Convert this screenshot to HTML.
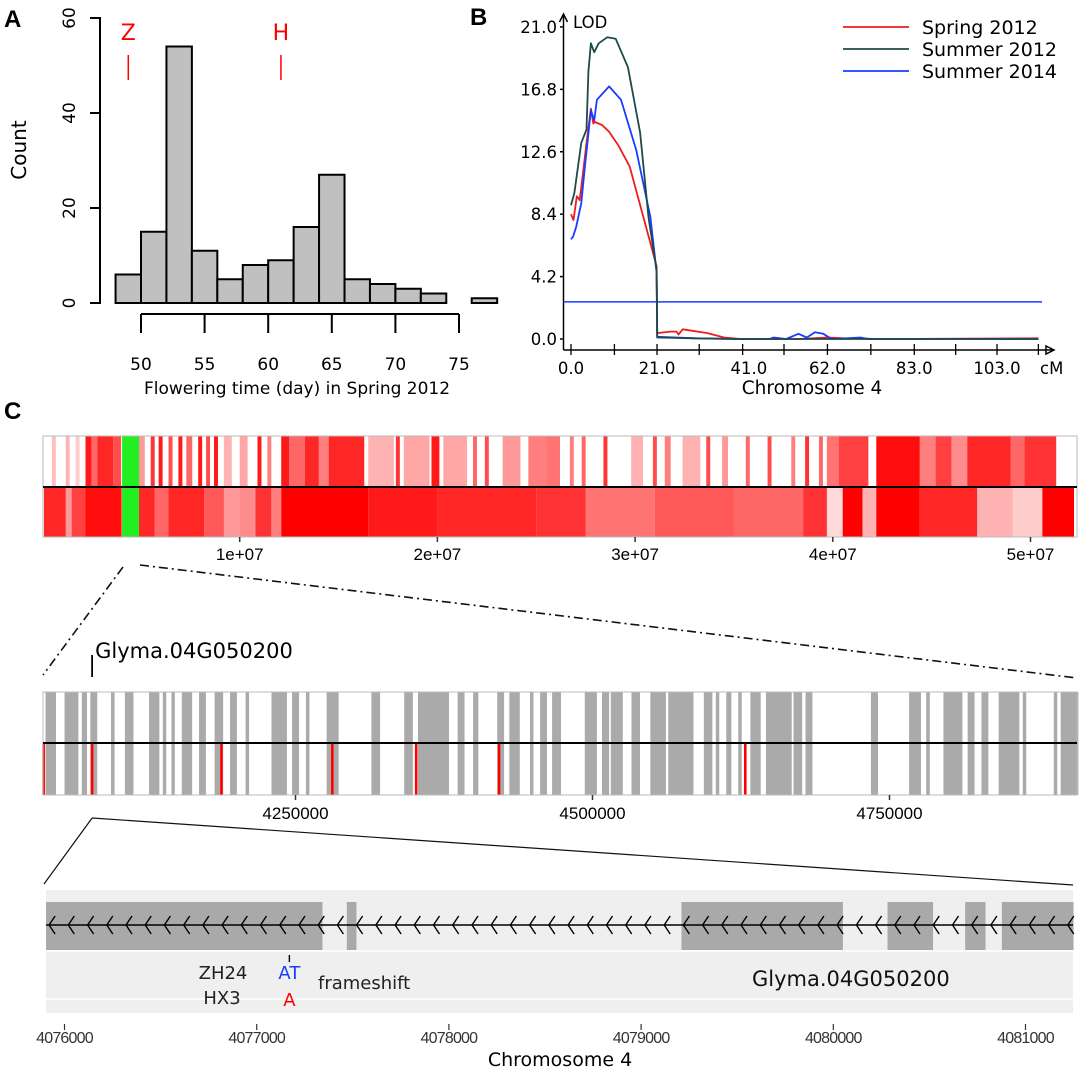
<!DOCTYPE html>
<html><head><meta charset="utf-8">
<style>
html,body{margin:0;padding:0;background:#fff;}
svg{display:block;font-family:"DejaVu Sans","Liberation Sans",sans-serif;}
</style></head>
<body>
<svg id="fig" width="1080" height="1067" viewBox="0 0 1080 1067" xmlns="http://www.w3.org/2000/svg">
  <text x="4" y="27" font-size="24" font-weight="bold" font-family="Liberation Sans, sans-serif">A</text>
  <text x="470" y="25" font-size="24" font-weight="bold" font-family="Liberation Sans, sans-serif">B</text>
  <text x="4" y="419" font-size="24" font-weight="bold" font-family="Liberation Sans, sans-serif">C</text>
  <g id="pa"></g>
  <g id="pb"></g>
  <g id="pc1"></g>
  <g id="pc2"></g>
  <g id="pc3"></g>
</svg>
<script>
// ---------- Panel A data ----------
const histStart = 48;
const histBinWidth = 2;
const histCounts = [6, 15, 54, 11, 5, 8, 9, 16, 27, 5, 4, 3, 2, 0, 1];
const histYTicks = [0, 20, 40, 60];
const histXTicks = [50, 55, 60, 65, 70, 75];
const parentMarks = [["Z", 49.0], ["H", 61.0]];

// ---------- Panel B data ----------
const lodYTicks = [0.0, 4.2, 8.4, 12.6, 16.8, 21.0];
const cmTicks = [0, 10.5, 20.8, 31, 41.5, 51.5, 62, 72.5, 83, 93, 103, 113];
const cmLabels = [[0, "0.0"], [20.8, "21.0"], [43, "41.0"], [62, "62.0"], [83, "83.0"], [103, "103.0"]];
const lodThreshold = 2.5;
const spring2012 = [[0,8.4],[0.6,8.0],[1.4,9.6],[2.1,9.35],[3.0,11.4],[3.75,13.2],[4.8,15.5],[5.4,14.5],[5.8,14.6],[7.5,14.4],[9.2,13.95],[11.5,13.0],[14.2,11.6],[17.5,8.2],[20.7,4.9],[20.85,0.4],[24,0.5],[25.5,0.5],[26,0.3],[27,0.65],[33,0.4],[37,0.1],[41,0],[55,0],[62,0.1],[66,0.05],[75,0],[113,0.05]];
const summer2012 = [[0,9.0],[0.8,9.8],[2.5,13.2],[3.75,14.1],[4.2,18.0],[4.8,19.9],[5.6,19.3],[6.7,19.9],[8.75,20.3],[10.8,20.2],[13.75,18.3],[16.7,13.9],[18.75,8.2],[20.7,4.6],[20.85,0.1],[30,0.05],[40,0],[113,0]];
const summer2014 = [[0,6.7],[0.5,6.9],[1.25,7.55],[2.5,9.15],[3.3,11.4],[4.8,15.4],[5.6,14.7],[6.25,16.1],[9.2,17.0],[12.1,16.1],[15.8,12.7],[19.2,8.2],[20.7,4.5],[20.85,0.15],[30,0.05],[40,0],[48,0],[49,0.1],[52,0],[55,0.35],[57,0.1],[59,0.45],[61,0.35],[63,0],[70,0.1],[72,0],[113,0]];

// ---------- Panel C top (Mb) : [start, end, intensity] ----------
const chrTicks = [1e7, 2e7, 3e7, 4e7, 5e7];
const chrTickLabels = ["1e+07", "2e+07", "3e+07", "4e+07", "5e+07"];
const highlightRegion = [4.05, 4.91];
const topRow = [[0.5,0.7,0.25],[1.2,1.4,0.3],[1.7,1.9,0.2],[2.2,2.5,0.9],[2.5,2.8,0.6],[2.8,3.6,0.85],[3.6,4.0,0.7],[4.9,5.2,0.4],[5.5,5.7,0.8],[5.9,6.1,0.9],[6.4,6.6,0.7],[6.9,7.1,0.9],[7.3,7.6,0.6],[7.9,8.1,0.9],[8.3,8.5,0.7],[8.7,8.9,0.9],[9.2,9.6,0.3],[10.0,10.4,0.35],[10.9,11.1,0.9],[11.4,11.6,0.5],[12.1,12.5,0.9],[12.5,13.3,0.6],[13.3,14.0,0.85],[14.0,14.5,0.5],[14.5,16.3,0.85],[16.5,17.8,0.3],[17.9,18.1,0.8],[18.3,19.6,0.35],[19.7,20.1,0.9],[20.3,21.5,0.35],[21.8,22.0,0.6],[22.4,22.6,0.7],[23.3,24.2,0.4],[24.6,25.5,0.5],[25.5,26.2,0.55],[26.7,26.9,0.5],[27.3,27.5,0.6],[28.4,28.6,0.8],[29.8,30.4,0.3],[30.9,31.1,0.7],[31.5,31.8,0.5],[32.4,33.3,0.3],[33.6,33.8,0.7],[34.4,34.7,0.4],[35.6,35.8,0.6],[36.7,36.9,0.7],[37.9,38.1,0.5],[38.6,38.8,0.8],[39.3,39.5,0.6],[39.7,40.3,0.55],[40.3,41.8,0.75],[42.2,44.4,0.95],[44.4,45.2,0.5],[45.2,46.0,0.75],[46.0,46.8,0.45],[46.8,49.0,0.85],[49.0,49.7,0.6],[49.7,51.3,0.8]];
const bottomRow = [[0.1,1.2,0.85],[1.2,1.5,0.4],[1.5,2.2,0.75],[2.2,4.0,0.95],[4.0,4.1,0.6],[4.9,5.7,0.85],[5.7,6.4,0.6],[6.4,8.2,0.85],[8.2,9.2,0.65],[9.2,10.0,0.4],[10.0,10.8,0.45],[10.8,11.6,0.8],[11.6,12.1,0.5],[12.1,16.5,1.0],[16.5,20.0,0.9],[20.0,25.0,0.85],[25.0,27.5,0.8],[27.5,31.0,0.55],[31.0,35.0,0.65],[35.0,38.5,0.6],[38.5,39.7,0.8],[39.7,40.5,0.15],[40.5,41.5,1.0],[41.5,42.2,0.3],[42.2,44.4,1.0],[44.4,47.3,0.85],[47.3,49.1,0.3],[49.1,50.6,0.2],[50.6,52.2,1.0]];

// ---------- Panel C middle (kb) ----------
const regTicks = [4250000, 4500000, 4750000];
const regGray = [[4039.6,4048.4],[4055.6,4067.2],[4070.1,4074.5],[4077.3,4083.1],[4094.7,4097.7],[4106.4,4113.6],[4126.7,4135.4],[4138.3,4141.2],[4145.6,4148.4],[4154.3,4163],[4168.8,4174.6],[4181.9,4189.1],[4194.9,4200.7],[4208,4210.9],[4229.8,4242.8],[4247.1,4253],[4258.8,4261.7],[4276.2,4286.3],[4313.9,4321.2],[4341.5,4348.8],[4353.1,4379.2],[4386.5,4392.3],[4399.5,4403.9],[4419.8,4425.6],[4430,4438.8],[4447.4,4450.3],[4455.9,4461.7],[4466,4473.5],[4493.5,4503.7],[4508,4514],[4515.4,4525.5],[4532.8,4540],[4548.7,4561.8],[4563.8,4585],[4593.7,4600.9],[4603.8,4606.7],[4612.6,4616.9],[4622.7,4625.6],[4632.9,4641.6],[4646,4667.7],[4669.2,4676.5],[4679.3,4685.1],[4734.4,4740.3],[4766.5,4776.5],[4780.9,4783.9],[4795.4,4811.4],[4815.8,4821.6],[4827.4,4833.2],[4841.9,4859.3],[4862.2,4865.1],[4888.3,4891.2],[4894.1,4909]];
const regRed = [4038, 4078.8, 4187.7, 4281, 4351.6, 4421.3, 4628.6];
const geneMark = 4078.8;

// ---------- Panel C bottom (kb) ----------
const geneTicks = [4076000, 4077000, 4078000, 4079000, 4080000, 4081000];
const exons = [[4075.904,4077.342],[4077.469,4077.519],[4079.21,4080.05],[4080.282,4080.519],[4080.686,4080.792],[4080.877,4081.25]];
const snpPos = 4077.17;

const NS = "http://www.w3.org/2000/svg";
function mk(parent, tag, attrs, text) {
  const e = document.createElementNS(NS, tag);
  for (const k in attrs) e.setAttribute(k, attrs[k]);
  if (text !== undefined) e.textContent = text;
  parent.appendChild(e);
  return e;
}

// ================= Panel A =================
(function(){
  const g = document.getElementById("pa");
  const xA = v => 141 + (v - 50) * 12.72;
  const yA = v => 303 - v * 4.75;
  histCounts.forEach((c, i) => {
    const x0 = xA(histStart + i * histBinWidth), x1 = xA(histStart + (i + 1) * histBinWidth);
    const r = mk(g, "rect", {x: x0, y: yA(c), width: x1 - x0, height: yA(0) - yA(c), fill: "#c0c0c0", stroke: "#000", "stroke-width": 2});
    
    
  });
  const ya = mk(g, "path", {d: `M90 ${yA(60)} H100 V${yA(0)} H90`, stroke: "#000", "stroke-width": 2, fill: "none"});
  
  
  histYTicks.forEach(v => {
    mk(g, "line", {x1: 90, x2: 100, y1: yA(v), y2: yA(v), stroke: "#000", "stroke-width": 2});
    const t = mk(g, "text", {x: 0, y: 0, "font-size": 17, "text-anchor": "middle", transform: `translate(75 ${yA(v)}) rotate(-90)`}, v);
    
    
  });
  const xa = mk(g, "line", {x1: xA(50), x2: xA(75), y1: 314, y2: 314, stroke: "#000", "stroke-width": 2});
  
  
  histXTicks.forEach(v => {
    mk(g, "line", {x1: xA(v), x2: xA(v), y1: 314, y2: 333, stroke: "#000", "stroke-width": 2});
    const t = mk(g, "text", {x: xA(v), y: 370, "font-size": 17, "text-anchor": "middle"}, v);
    
    
  });
  const xt = mk(g, "text", {x: 297, y: 394, "font-size": 17, "text-anchor": "middle"}, "Flowering time (day) in Spring 2012");
  
  
  const yt = mk(g, "text", {x: 0, y: 0, "font-size": 20, "text-anchor": "middle", transform: "translate(26 150) rotate(-90)"}, "Count");
  
  
  parentMarks.forEach(([lab, v]) => {
    const t = mk(g, "text", {x: xA(v), y: 40, "font-size": 22, fill: "#f00", "text-anchor": "middle"}, lab);
    
    
    mk(g, "line", {x1: xA(v), x2: xA(v), y1: 55, y2: 80, stroke: "#f00", "stroke-width": 1.5});
  });
})();

// ================= Panel B =================
(function(){
  const g = document.getElementById("pb");
  const xB = v => 571 + v * 4.136;
  const yB = v => 339 - v * 14.86;
  const ax = mk(g, "path", {d: `M563.5 350 V14 M559.5 22 L563.5 14 L567.5 22 M563.5 350 H1052 M1046 346 L1054 350 L1046 354 Z`, stroke: "#000", "stroke-width": 1.5, fill: "none"});
  
  
  lodYTicks.forEach(v => {
    mk(g, "line", {x1: 560, x2: 563.5, y1: yB(v), y2: yB(v), stroke: "#000", "stroke-width": 1.5});
    const t = mk(g, "text", {x: 557, y: yB(v) + 6, "font-size": 16.5, "text-anchor": "end"}, v.toFixed(1));
    
    
  });
  const lod = mk(g, "text", {x: 573, y: 28, "font-size": 16.5}, "LOD");
  
  
  cmTicks.forEach(v => mk(g, "line", {x1: xB(v), x2: xB(v), y1: 344, y2: 355, stroke: "#000", "stroke-width": 1.3}));
  cmLabels.forEach(([v, s]) => {
    const t = mk(g, "text", {x: xB(v), y: 374, "font-size": 16.5, "text-anchor": "middle"}, s);
    
    
  });
  const cm = mk(g, "text", {x: 1040, y: 374, "font-size": 16.5}, "cM");
  
  
  const xt = mk(g, "text", {x: 812, y: 394, "font-size": 18.5, "text-anchor": "middle"}, "Chromosome 4");
  
  
  const th = mk(g, "line", {x1: 563.5, x2: 1042, y1: yB(lodThreshold), y2: yB(lodThreshold), stroke: "#1a3cff", "stroke-width": 1.5});
  
  
  const series = [[spring2012, "#ee1c1c", "spring-2012-line"], [summer2014, "#1a3cff", "summer-2014-line"], [summer2012, "#1f4a4a", "summer-2012-line"]];
  series.forEach(([d, col, name]) => {
    const p = mk(g, "polyline", {points: d.map(([a, b]) => `${xB(a).toFixed(1)},${yB(b).toFixed(1)}`).join(" "), fill: "none", stroke: col, "stroke-width": 1.8, "stroke-linejoin": "round"});
    
    
  });
  const legend = [["Spring 2012", "#ee1c1c"], ["Summer 2012", "#1f4a4a"], ["Summer 2014", "#1a3cff"]];
  legend.forEach(([lab, col], i) => {
    const y = 27 + i * 22;
    mk(g, "line", {x1: 843, x2: 909, y1: y, y2: y, stroke: col, "stroke-width": 1.8});
    const t = mk(g, "text", {x: 922, y: y + 7, "font-size": 19}, lab);
    
    
  });
})();

// ================= Panel C top =================
(function(){
  const g = document.getElementById("pc1");
  const xC = mb => 42 + mb * 19.77;
  const top = 436, mid = 487, bot = 537;
  topRow.forEach(([a, b, o]) => {
    const r = mk(g, "rect", {x: xC(a), y: top, width: xC(b) - xC(a), height: mid - top, fill: "#ff0000", "fill-opacity": o});
    
    
  });
  bottomRow.forEach(([a, b, o]) => {
    const r = mk(g, "rect", {x: xC(a), y: mid, width: xC(b) - xC(a), height: bot - mid, fill: "#ff0000", "fill-opacity": o});
    
    
  });
  const hl = mk(g, "rect", {x: xC(highlightRegion[0]), y: top, width: xC(highlightRegion[1]) - xC(highlightRegion[0]), height: bot - top, fill: "#22ee22"});
  
  
  mk(g, "rect", {x: 43, y: top, width: 1034, height: bot - top, fill: "none", stroke: "#bbb", "stroke-width": 1});
  mk(g, "line", {x1: 43, x2: 1077, y1: mid, y2: mid, stroke: "#000", "stroke-width": 2});
  chrTicks.forEach((v, i) => {
    const x = xC(v / 1e6);
    mk(g, "line", {x1: x, x2: x, y1: bot, y2: bot + 5, stroke: "#333", "stroke-width": 1.5});
    const t = mk(g, "text", {x: x, y: 560, "font-size": 17, "text-anchor": "middle", "font-family": "Liberation Sans, sans-serif"}, chrTickLabels[i]);
    
    
  });
  const z = mk(g, "path", {d: "M123 567 L43 675 M140 565 L1077 678", stroke: "#111", "stroke-width": 1.6, "stroke-dasharray": "9 4 2 4", fill: "none"});
  
  
})();

// ================= Panel C middle =================
(function(){
  const g = document.getElementById("pc2");
  const xM = kb => 295.5 + (kb - 4250) * 1.188;
  const top = 692, mid = 743, bot = 795;
  regGray.forEach(([a, b]) => {
    const r = mk(g, "rect", {x: xM(a), y: top, width: Math.max(1, xM(b) - xM(a)), height: bot - top, fill: "#aaaaaa"});
    
    
  });
  regRed.forEach(v => {
    const r = mk(g, "rect", {x: xM(v) - 1.3, y: mid, width: 2.6, height: bot - mid, fill: "#ff0000"});
    
    
  });
  mk(g, "rect", {x: 43, y: top, width: 1034, height: bot - top, fill: "none", stroke: "#bbb", "stroke-width": 1});
  mk(g, "line", {x1: 43, x2: 1077, y1: mid, y2: mid, stroke: "#000", "stroke-width": 2});
  regTicks.forEach(v => {
    const x = xM(v / 1000);
    mk(g, "line", {x1: x, x2: x, y1: bot, y2: bot + 5, stroke: "#333", "stroke-width": 1.5});
    const t = mk(g, "text", {x: x, y: 819, "font-size": 17, "text-anchor": "middle", "font-family": "Liberation Sans, sans-serif"}, v);
    
    
  });
  const gx = xM(geneMark);
  mk(g, "line", {x1: gx, x2: gx, y1: 655, y2: 677, stroke: "#000", "stroke-width": 1.8});
  const gl = mk(g, "text", {x: gx + 3, y: 658, "font-size": 21}, "Glyma.04G050200");
  
  
  const z = mk(g, "path", {d: `M${gx} 818 L44 884 M${gx} 818 L1073 885`, stroke: "#111", "stroke-width": 1.2, fill: "none"});
  
  
})();

// ================= Panel C bottom =================
(function(){
  const g = document.getElementById("pc3");
  const xG = kb => 64.5 + (kb - 4076) * 192.2;
  const bg = mk(g, "rect", {x: 46, y: 890, width: 1027, height: 123, fill: "#efefef"});
  
  
  mk(g, "line", {x1: 46, x2: 1073, y1: 951, y2: 951, stroke: "#fff", "stroke-width": 1.5});
  mk(g, "line", {x1: 46, x2: 1073, y1: 999, y2: 999, stroke: "#fff", "stroke-width": 1.5});
  exons.forEach(([a, b]) => {
    const r = mk(g, "rect", {x: xG(a), y: 902, width: xG(b) - xG(a), height: 48, fill: "#a9a9a9"});
    
    
  });
  mk(g, "line", {x1: 46, x2: 1073, y1: 925, y2: 925, stroke: "#000", "stroke-width": 1.6});
  let d = "";
  for (let kb = 4075.92; kb < 4081.25; kb += 0.1) {
    const x = xG(kb);
    d += `M${(x + 6).toFixed(1)} 916 L${x.toFixed(1)} 925 L${(x + 6).toFixed(1)} 934 `;
  }
  const ar = mk(g, "path", {d: d, stroke: "#000", "stroke-width": 1.4, fill: "none"});
  
  
  const sx = xG(snpPos);
  mk(g, "line", {x1: sx, x2: sx, y1: 955, y2: 962, stroke: "#000", "stroke-width": 1.4});
  const labels = [[223, 979, "ZH24", "#222", "middle", 18], [222, 1004, "HX3", "#222", "middle", 18], [sx, 979, "AT", "#1a3cff", "middle", 18], [sx, 1006, "A", "#f00", "middle", 18], [318, 989, "frameshift", "#222", "start", 18], [752, 986, "Glyma.04G050200", "#111", "start", 21]];
  labels.forEach(([x, y, s, c, a, fs]) => {
    const t = mk(g, "text", {x: x, y: y, fill: c, "text-anchor": a, "font-size": fs}, s);
    
    
  });
  geneTicks.forEach(v => {
    const x = xG(v / 1000);
    mk(g, "line", {x1: x, x2: x, y1: 1024, y2: 1030, stroke: "#333", "stroke-width": 1.2});
    const t = mk(g, "text", {x: x, y: 1043, "font-size": 16, "text-anchor": "middle", "letter-spacing": "-0.8", "font-family": "Liberation Sans, sans-serif", fill: "#333"}, v);
    
    
  });
  const xt = mk(g, "text", {x: 560, y: 1066, "font-size": 19, "text-anchor": "middle"}, "Chromosome 4");
  
  
})();
</script>
</body></html>
